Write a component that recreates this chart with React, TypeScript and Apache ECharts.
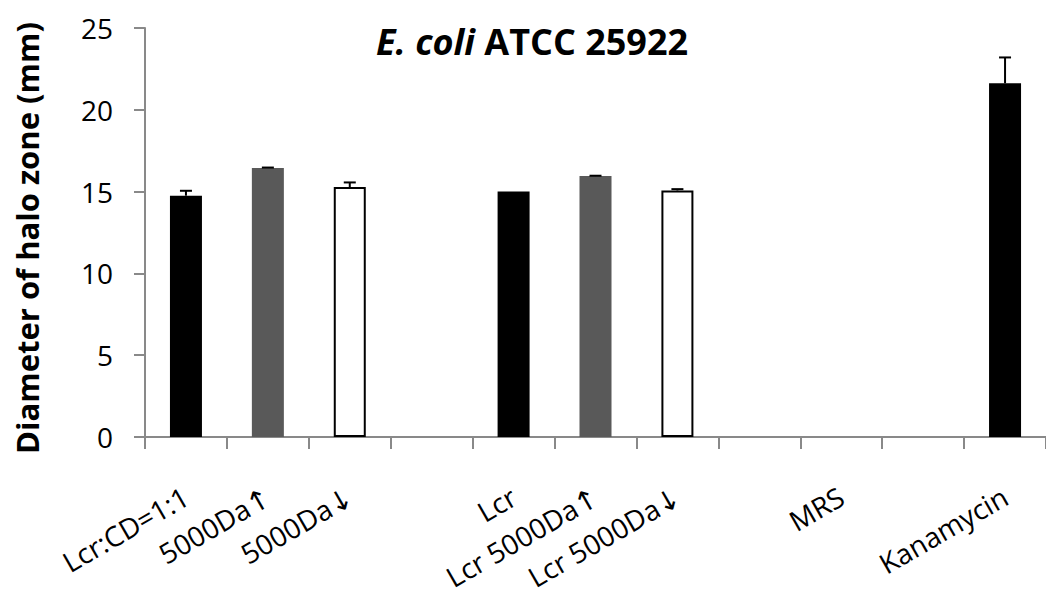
import React, { useEffect, useRef } from "react";
import * as echarts from "echarts";

const categories = ["Lcr:CD=1:1", "5000Da↑", "5000Da↓", "", "Lcr", "Lcr 5000Da↑", "Lcr 5000Da↓", "", "MRS", "", "Kanamycin"];
const values: (number | null)[] = [14.75, 16.45, 15.28, null, 15.0, 15.95, 15.07, null, 0, null, 21.62];
const errors: (number | null)[] = [0.3, 0.02, 0.28, null, 0, 0.02, 0.08, null, 0, null, 1.58];
const barKinds = ["mix", "high", "low", "", "mix", "high", "low", "", "mix", "", "mix"];
const yTicks = [0, 5, 10, 15, 20, 25];
const titleItalic = "E. coli";
const titleRest = " ATCC 25922";
const yTitle = "Diameter of halo zone (mm)";

const kindStyle: Record<string, any> = {
  mix: { color: "#000000" },
  high: { color: "#595959" },
  low: { color: "#ffffff", borderColor: "#000000", borderWidth: 2 },
};

const FONT = "'Open Sans', 'Noto Sans', 'DejaVu Sans', sans-serif";

export default function App() {
  const ref = useRef<HTMLDivElement>(null);
  useEffect(() => {
    document.body.style.margin = "0";
    const chart = echarts.init(ref.current!, null, { renderer: "svg" });
    const axisGray = "#898989";
    chart.setOption({
      animation: false,
      backgroundColor: "#ffffff",
      title: {
        text: `{it|${titleItalic}}${titleRest}`,
        left: 371,
        top: 18,
        textStyle: {
          fontFamily: FONT,
          fontSize: 36,
          fontWeight: "bold",
          color: "#000",
          rich: {
            it: { fontFamily: FONT, fontSize: 36, fontWeight: "bold", fontStyle: "italic", color: "#000" },
          },
        },
      },
      graphic: [
        {
          type: "text",
          x: 27,
          y: 238,
          rotation: Math.PI / 2,
          style: {
            text: yTitle,
            fontFamily: FONT,
            fontSize: 31,
            fontWeight: "bold",
            fill: "#000",
            align: "center",
            verticalAlign: "middle",
          },
        },
      ],
      grid: { left: 145, top: 28, width: 910, height: 409, containLabel: false },
      xAxis: {
        type: "category",
        data: categories,
        boundaryGap: true,
        axisLine: { lineStyle: { color: axisGray, width: 2 } },
        axisTick: { show: true, length: 12, lineStyle: { color: axisGray, width: 2 } },
        axisLabel: {
          interval: 0,
          rotate: 30,
          margin: 57,
          fontFamily: FONT,
          fontSize: 28,
          color: "#000",
        },
        splitLine: { show: false },
      },
      yAxis: {
        type: "value",
        min: yTicks[0],
        max: yTicks[yTicks.length - 1],
        interval: yTicks[1] - yTicks[0],
        axisLine: { show: true, lineStyle: { color: axisGray, width: 2 } },
        axisTick: { show: true, length: 11, lineStyle: { color: axisGray, width: 2 } },
        axisLabel: { margin: 32, fontFamily: FONT, fontSize: 28, color: "#000" },
        splitLine: { show: false },
      },
      series: [
        {
          type: "bar",
          barWidth: 32,
          data: values.map((v, i) => ({
            value: v,
            itemStyle: kindStyle[barKinds[i]] || { color: "#000" },
          })),
          z: 2,
        },
        {
          type: "custom",
          z: 5,
          data: errors.map((e, i) => [i, values[i], e]),
          renderItem: (params: any, api: any) => {
            const idx = api.value(0);
            const v = api.value(1);
            const e = api.value(2);
            if (v == null || isNaN(v) || e == null || isNaN(e) || e <= 0) return null;
            const base = api.coord([idx, v]);
            const top = api.coord([idx, v + e]);
            const half = 6;
            return {
              type: "group",
              children: [
                {
                  type: "line",
                  shape: { x1: base[0], y1: base[1], x2: top[0], y2: top[1] },
                  style: { stroke: "#000", lineWidth: 2 },
                },
                {
                  type: "line",
                  shape: { x1: top[0] - half, y1: top[1], x2: top[0] + half, y2: top[1] },
                  style: { stroke: "#000", lineWidth: 2 },
                },
              ],
            };
          },
        },
      ],
    });
    return () => chart.dispose();
  }, []);
  return <div ref={ref} style={{ width: 1046, height: 604 }} />;
}
